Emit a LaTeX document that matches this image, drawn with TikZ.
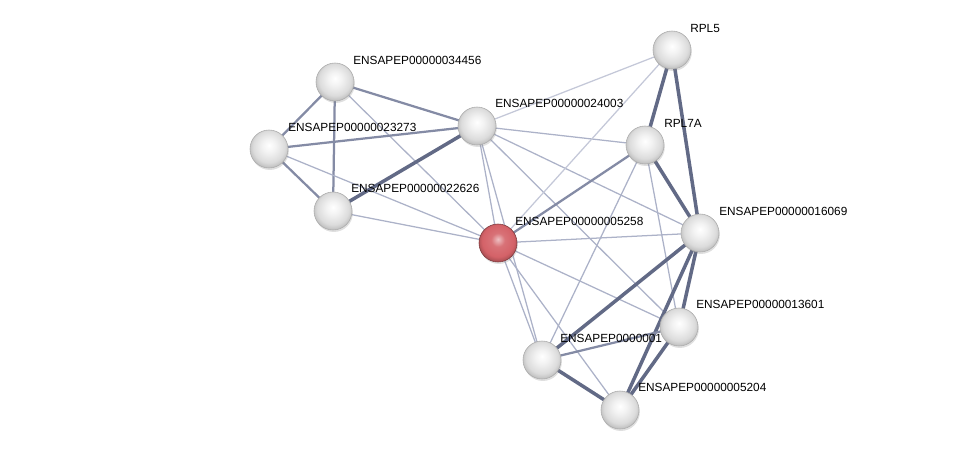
\documentclass[tikz,border=0pt]{standalone}
\usepackage{fontspec}
\setmainfont{Liberation Sans}
\usepackage{tikz}
\usetikzlibrary{positioning, calc, shadows}
\definecolor{EdgeDark}{RGB}{98,106,134}
\definecolor{EdgeMid}{RGB}{132,139,165}
\definecolor{EdgeLight}{RGB}{172,178,200}
\definecolor{EdgePale}{RGB}{196,200,216}
\definecolor{BallRed}{RGB}{212,98,104}
\pgfdeclareradialshading{protball}{\pgfpoint{0bp}{5bp}}{%
  color(0bp)=(white); color(9bp)=(gray!10); color(21bp)=(gray!28);
  color(28bp)=(gray!55); color(50bp)=(gray!55)}
\pgfdeclareradialshading{queryball}{\pgfpoint{0bp}{5bp}}{%
  color(0bp)=(BallRed!40!white); color(9bp)=(BallRed!90!white); color(21bp)=(BallRed);
  color(28bp)=(BallRed!75!black); color(50bp)=(BallRed!75!black)}

\begin{document}
\begin{tikzpicture}[
    x=0.025cm, y=-0.025cm,
    protein/.style={circle,minimum size=0.95cm,inner sep=0pt,shading=protball,
                    draw=gray!65,line width=0.4pt,
                    drop shadow={shadow xshift=0.6pt,shadow yshift=-1.4pt,opacity=0.25}},
    query/.style={protein,shading=queryball,draw=BallRed!60!black},
    lbl/.style={anchor=west,inner sep=0pt,font=\fontsize{8.4}{10}\selectfont},
    lnkweak/.style={EdgeLight,line width=0.9pt},
    lnkpale/.style={EdgePale,line width=0.9pt},
    lnkmid/.style={EdgeMid,line width=1.6pt},
    lnkstrong/.style={EdgeDark,line width=2.5pt}
  ]
    \useasboundingbox (0,0) rectangle (976,455);
    \coordinate (p34456) at (335,82);
    \coordinate (p23273) at (269,149);
    \coordinate (p22626) at (333,211);
    \coordinate (p24003) at (477,126);
    \coordinate (p5258) at (498,243);
    \coordinate (rpl5) at (672,50);
    \coordinate (rpl7a) at (645,145);
    \coordinate (p16069) at (700,233);
    \coordinate (p13601) at (679,327);
    \coordinate (p0001) at (542,360);
    \coordinate (p5204) at (620,410);

    \draw[lnkmid] (p34456)--(p23273);
    \draw[lnkmid] (p34456)--(p22626);
    \draw[lnkmid] (p34456)--(p24003);
    \draw[lnkweak] (p34456)--(p5258);
    \draw[lnkmid] (p23273)--(p22626);
    \draw[lnkmid] (p23273)--(p24003);
    \draw[lnkweak] (p23273)--(p5258);
    \draw[lnkstrong] (p22626)--(p24003);
    \draw[lnkweak] (p22626)--(p5258);
    \draw[lnkweak] (p24003)--(p5258);
    \draw[lnkweak] (p24003)--(p0001);
    \draw[lnkpale] (p24003)--(rpl5);
    \draw[lnkweak] (p24003)--(rpl7a);
    \draw[lnkweak] (p24003)--(p16069);
    \draw[lnkweak] (p24003)--(p13601);
    \draw[lnkpale] (p5258)--(rpl5);
    \draw[lnkmid] (p5258)--(rpl7a);
    \draw[lnkweak] (p5258)--(p16069);
    \draw[lnkweak] (p5258)--(p13601);
    \draw[lnkweak] (p5258)--(p0001);
    \draw[lnkweak] (p5258)--(p5204);
    \draw[lnkstrong] (rpl5)--(rpl7a);
    \draw[lnkstrong] (rpl5)--(p16069);
    \draw[lnkstrong] (rpl7a)--(p16069);
    \draw[lnkweak] (rpl7a)--(p13601);
    \draw[lnkweak] (rpl7a)--(p0001);
    \draw[lnkstrong] (p16069)--(p13601);
    \draw[lnkstrong] (p16069)--(p0001);
    \draw[lnkstrong] (p16069)--(p5204);
    \draw[lnkmid] (p13601)--(p0001);
    \draw[lnkstrong] (p13601)--(p5204);
    \draw[lnkstrong] (p0001)--(p5204);

    \node[protein] (n34456) at (p34456) {};
    \node[lbl] (l34456) at ($(p34456)+(18,-22)$) {ENSAPEP00000034456};
    \node[protein] (n23273) at (p23273) {};
    \node[lbl] (l23273) at ($(p23273)+(19,-22)$) {ENSAPEP00000023273};
    \node[protein] (n22626) at (p22626) {};
    \node[lbl] (l22626) at ($(p22626)+(18,-23)$) {ENSAPEP00000022626};
    \node[protein] (n24003) at (p24003) {};
    \node[lbl] (l24003) at ($(p24003)+(18,-23)$) {ENSAPEP00000024003};
    \node[query] (n5258) at (p5258) {};
    \node[lbl] (l5258) at ($(p5258)+(17,-22)$) {ENSAPEP00000005258};
    \node[protein] (nrpl5) at (rpl5) {};
    \node[lbl] (lrpl5) at ($(rpl5)+(18,-22)$) {RPL5};
    \node[protein] (nrpl7a) at (rpl7a) {};
    \node[lbl] (lrpl7a) at ($(rpl7a)+(19,-22)$) {RPL7A};
    \node[protein] (n16069) at (p16069) {};
    \node[lbl] (l16069) at ($(p16069)+(19,-22)$) {ENSAPEP00000016069};
    \node[protein] (n0001) at (p0001) {};
    \node[lbl] (l0001) at ($(p0001)+(18,-22)$) {ENSAPEP0000001};
    \node[protein] (n5204) at (p5204) {};
    \node[lbl] (l5204) at ($(p5204)+(18,-23)$) {ENSAPEP00000005204};
    \node[protein] (n13601) at (p13601) {};
    \node[lbl] (l13601) at ($(p13601)+(17,-23)$) {ENSAPEP00000013601};
  \end{tikzpicture}
\end{document}
